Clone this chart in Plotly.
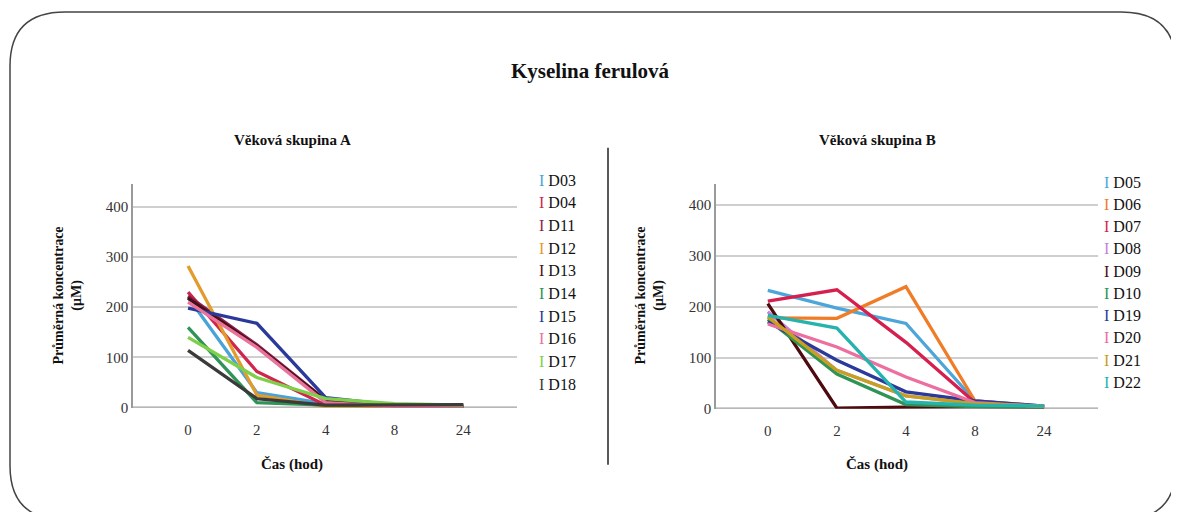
import plotly.graph_objects as go

W, H = 1179, 512
OFF = 8  # page body margin of the browser

times = ["0", "2", "4", "8", "24"]

# Věková skupina A
groupA_names = ["D03", "D04", "D11", "D12", "D13", "D14", "D15", "D16", "D17", "D18"]
D03 = [220, 30, 8, 3, 2]
D04 = [230, 72, 5, 2, 2]
D11 = [222, 125, 15, 3, 2]
D12 = [282, 25, 2, 1, 1]
D13 = [218, 122, 14, 3, 2]
D14 = [160, 10, 5, 4, 3]
D15 = [198, 168, 20, 5, 4]
D16 = [210, 120, 10, 2, 1]
D17 = [140, 60, 18, 8, 5]
D18 = [114, 18, 5, 6, 6]
groupA_values = [D03, D04, D11, D12, D13, D14, D15, D16, D17, D18]
groupA_colors = ["#4aa3d8", "#d0264d", "#8e1f4e", "#e39b2b", "#4a0f12",
                 "#2f9455", "#2b3a9a", "#e8739d", "#7ed04a", "#3b3b3b"]

# Věková skupina B
groupB_names = ["D05", "D06", "D07", "D08", "D09", "D10", "D19", "D20", "D21", "D22"]
D05 = [232, 197, 167, 15, 5]
D06 = [178, 177, 239, 15, 4]
D07 = [211, 233, 130, 12, 4]
D08 = [190, 75, 25, 10, 4]
D09 = [206, 1, 3, 4, 3]
D10 = [175, 68, 8, 4, 3]
D19 = [170, 95, 33, 15, 5]
D20 = [166, 121, 62, 12, 4]
D21 = [180, 75, 25, 10, 5]
D22 = [183, 158, 13, 7, 5]
groupB_values = [D05, D06, D07, D08, D09, D10, D19, D20, D21, D22]
groupB_colors = ["#4da6d9", "#f07c28", "#d61f4e", "#c583d9", "#4d0a0f",
                 "#2f9455", "#2b3a9a", "#ec6fa0", "#c8a020", "#26b3ae"]

yticks = [0, 100, 200, 300, 400]

FONT = "Liberation Serif"


def px(x):
    return (x - OFF) / W


def py(y):
    return 1 - (y - OFF) / H


fig = go.Figure()

for name, vals, col in zip(groupA_names, groupA_values, groupA_colors):
    fig.add_trace(go.Scatter(x=times, y=vals, mode="lines", name=name,
                             line=dict(color=col, width=3.3),
                             xaxis="x", yaxis="y", showlegend=False))
for name, vals, col in zip(groupB_names, groupB_values, groupB_colors):
    fig.add_trace(go.Scatter(x=times, y=vals, mode="lines", name=name,
                             line=dict(color=col, width=3.3),
                             xaxis="x2", yaxis="y2", showlegend=False))

axis_common = dict(
    type="category", categoryorder="array", categoryarray=times,
    showgrid=False, zeroline=False, showline=False,
    ticks="outside", ticklen=8, tickcolor="rgba(0,0,0,0)",
    tickfont=dict(family=FONT, size=15, color="#333"),
)
yaxis_common = dict(
    tickvals=yticks, showgrid=True, gridcolor="#cfcfcf", gridwidth=1.5,
    zeroline=False, showline=True, linecolor="#9a9a9a", linewidth=1.5,
    ticks="", tickfont=dict(family=FONT, size=15, color="#333"),
)

fig.update_layout(
    width=W, height=H,
    margin=dict(l=0, r=0, t=0, b=0),
    paper_bgcolor="white", plot_bgcolor="white",
    font=dict(family=FONT),
    xaxis=dict(domain=[px(133), px(517)], range=[-0.8, 4.78], anchor="y", **axis_common),
    yaxis=dict(domain=[py(414), py(187)], range=[0, 445], anchor="x", **yaxis_common),
    xaxis2=dict(domain=[px(716), px(1098)], range=[-0.75, 4.78], anchor="y2", **axis_common),
    yaxis2=dict(domain=[py(415), py(187)], range=[0, 440], anchor="x2", **yaxis_common),
)

shapes = []
for xr, yr in [("x", "y"), ("x2", "y2")]:
    shapes.append(dict(type="line", xref=f"{xr} domain", yref=yr, x0=0, x1=1, y0=0, y1=0,
                       line=dict(color="#a0a0a0", width=2.5), layer="below"))

# rounded frame
L, T, R, B, r = 10, 12, 1176, 528, 55
path = (f"M {px(L+r)},{py(T)} L {px(R-r)},{py(T)} Q {px(R)},{py(T)} {px(R)},{py(T+r)} "
        f"L {px(R)},{py(B-r)} Q {px(R)},{py(B)} {px(R-r)},{py(B)} "
        f"L {px(L+r)},{py(B)} Q {px(L)},{py(B)} {px(L)},{py(B-r)} "
        f"L {px(L)},{py(T+r)} Q {px(L)},{py(T)} {px(L+r)},{py(T)} Z")
shapes.append(dict(type="path", xref="paper", yref="paper", path=path,
                   line=dict(color="#444", width=1.5)))
shapes.append(dict(type="line", xref="paper", yref="paper",
                   x0=px(608), x1=px(608), y0=py(150), y1=py(472),
                   line=dict(color="#222", width=1.5)))
fig.update_layout(shapes=shapes)

ann = []


def text(x, y, s, size, angle=0, xanchor="center", color="#111"):
    ann.append(dict(x=px(x), y=py(y), xref="paper", yref="paper", text=s,
                    showarrow=False, xanchor=xanchor, yanchor="middle", textangle=angle,
                    font=dict(family=FONT, size=size, color=color)))


text(590, 72, "<b>Kyselina ferulová</b>", 21)
text(292, 142, "<b>Věková skupina A</b>", 15)
text(877, 142, "<b>Věková skupina B</b>", 15)
text(292, 472, "<b>Čas (hod)</b>", 15)
text(877, 472, "<b>Čas (hod)</b>", 15)
text(68, 300, "<b>Průměrná koncentrace<br>(μM)</b>", 14, angle=-90)
text(650, 300, "<b>Průměrná koncentrace<br>(μM)</b>", 14, angle=-90)

for i, (name, col) in enumerate(zip(groupA_names, groupA_colors)):
    text(537, 183 + i * 23, f"<span style='color:{col}'>I</span> {name}", 16, xanchor="left")
for i, (name, col) in enumerate(zip(groupB_names, groupB_colors)):
    text(1102, 185 + i * 22.6, f"<span style='color:{col}'>I</span> {name}", 16, xanchor="left")

fig.update_layout(annotations=ann)

fig.write_html("out.html")
